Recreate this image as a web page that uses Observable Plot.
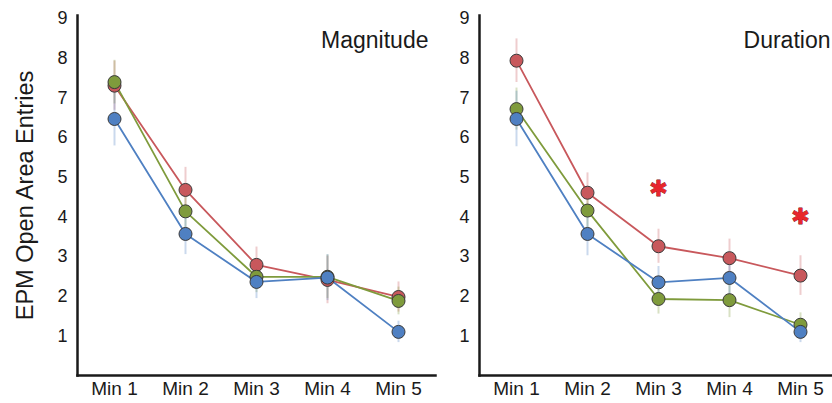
<!DOCTYPE html>
<html>
<head>
<meta charset="utf-8">
<script src="https://cdn.jsdelivr.net/npm/d3@7"></script>
<script src="https://cdn.jsdelivr.net/npm/@observablehq/plot@0.6"></script>
<style>
  html, body { margin: 0; padding: 0; background: #fff; overflow: hidden; }
  #wrap { position: relative; width: 832px; height: 403px; font-family: "Liberation Sans", Arial, sans-serif; }
  #wrap svg { position: absolute; top: 0; background: transparent; }
</style>
</head>
<body>
<div id="wrap"></div>
<script>
const minutes = ["Min 1", "Min 2", "Min 3", "Min 4", "Min 5"];
const seriesNames = ["Group 1", "Group 2", "Group 3"];
const seriesColors = ["#c8585c", "#7f9b3c", "#4f80c2"];
const yTicks = [1, 2, 3, 4, 5, 6, 7, 8, 9];
const yLabel = "EPM Open Area Entries";
const panelTitles = ["Magnitude", "Duration"];

// Magnitude panel
const magRed = [7.31, 4.68, 2.79, 2.41, 1.98];
const magGreen = [7.40, 4.14, 2.49, 2.49, 1.88];
const magBlue = [6.47, 3.57, 2.36, 2.47, 1.10];
const magRedErr = [0.62, 0.57, 0.45, 0.60, 0.38];
const magGreenErr = [0.55, 0.50, 0.40, 0.55, 0.35];
const magBlueErr = [0.68, 0.52, 0.42, 0.58, 0.27];

// Duration panel
const durRed = [7.94, 4.61, 3.26, 2.96, 2.52];
const durGreen = [6.72, 4.16, 1.93, 1.90, 1.28];
const durBlue = [6.47, 3.57, 2.35, 2.46, 1.10];
const durRedErr = [0.55, 0.50, 0.43, 0.48, 0.50];
const durGreenErr = [0.53, 0.45, 0.38, 0.44, 0.30];
const durBlueErr = [0.70, 0.55, 0.40, 0.45, 0.27];

// significance markers (Duration panel)
const starMinutes = ["Min 3", "Min 5"];
const starY = [4.70, 4.00];

function rows(vals, errs) {
  const out = [];
  vals.forEach((v, s) => {
    minutes.forEach((m, i) => {
      out.push({series: seriesNames[s], min: m, y: v[i], lo: v[i] - errs[s][i], hi: v[i] + errs[s][i]});
    });
  });
  return out;
}

const magData = rows([magRed, magGreen, magBlue], [magRedErr, magGreenErr, magBlueErr]);
const durData = rows([durRed, durGreen, durBlue], [durRedErr, durGreenErr, durBlueErr]);
const stars = starMinutes.map((m, i) => ({min: m, y: starY[i]}));

function panel(data, title, withLabel, withStars, width) {
  const marks = [
    Plot.ruleX(data, {x: "min", y1: "lo", y2: "hi", stroke: "series", strokeWidth: 2, strokeOpacity: 0.3}),
    Plot.line(data, {x: "min", y: "y", z: "series", stroke: "series", strokeWidth: 1.8}),
    Plot.dot(data, {x: "min", y: "y", fill: "series", r: 6.5, stroke: "#3a3a3a", strokeWidth: 1}),
    Plot.axisY({ticks: yTicks, tickSize: 0, tickPadding: 10, fontSize: 18, label: null, tickFormat: d => String(d)}),
    Plot.axisX({tickSize: 0, tickPadding: 6, fontSize: 19, label: null}),
    Plot.frame({anchor: "left", stroke: "#1a1a1a", strokeWidth: 2.5}),
    Plot.frame({anchor: "bottom", stroke: "#1a1a1a", strokeWidth: 2.5}),
    Plot.text([title], {frameAnchor: "top-right", text: d => d, textAnchor: "end", dx: -7, dy: 16, fontSize: 23, fill: "#1a1a1a"})
  ];
  if (withLabel) {
    marks.push(Plot.text([yLabel], {frameAnchor: "left", text: d => d, textAnchor: "middle", rotate: -90, dx: -52, fontSize: 23.5, fill: "#1a1a1a"}));
  }
  if (withStars) {
    marks.push(Plot.text(stars, {x: "min", y: "y", text: () => "\u2731", fontSize: 22, fill: "#e8262c", stroke: "#7a1414", strokeWidth: 0.8, fontFamily: "DejaVu Sans"}));
  }
  return Plot.plot({
    width: width,
    height: 403,
    marginLeft: 77,
    marginRight: 5,
    marginTop: 15,
    marginBottom: 28,
    style: {fontFamily: "Liberation Sans, Arial, sans-serif", color: "#1a1a1a", background: "transparent", overflow: "visible"},
    x: {type: "point", domain: minutes, padding: 0.5},
    y: {domain: [0, 9.08]},
    color: {domain: seriesNames, range: seriesColors},
    marks
  });
}

const wrap = document.getElementById("wrap");
const left = panel(magData, panelTitles[0], true, false, 440);
left.style.left = "0px";
const right = panel(durData, panelTitles[1], false, true, 440);
right.style.left = "402px";
wrap.appendChild(left);
wrap.appendChild(right);
</script>
</body>
</html>
